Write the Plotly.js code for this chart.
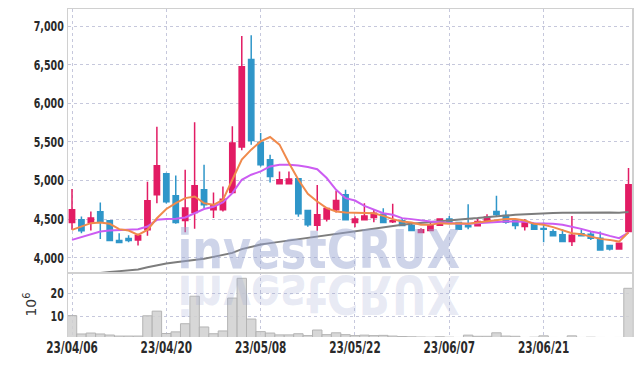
<!DOCTYPE html>
<html>
<head>
<meta charset="utf-8">
<script src="https://cdn.plot.ly/plotly-3.0.1.min.js"></script>
<style>
  html, body { margin: 0; padding: 0; background: #fff; }
  #chart { width: 642px; height: 366px; }
</style>
</head>
<body>
<div id="chart"></div>
<script>
// Tick labels (every 10 trading days)
const tickIndex = [0, 10, 20, 30, 40, 50];
const tickLabels = ['23/04/06', '23/04/20', '23/05/08', '23/05/22', '23/06/07', '23/06/21'];

// OHLC (yen)
const openP = [4455,4490,4455,4594,4477,4221,4247,4230,4360,4814,
               5087,4801,4481,4584,4879,4619,4619,4844,5434,6567,
               5494,5269,4957,4957,5022,4610,4421,4499,4619,4814,
               4455,4490,4519,4563,4464,4477,4412,4325,4351,4421,
               4499,4455,4416,4412,4468,4597,4545,4477,4403,4438,
               4377,4334,4295,4208,4308,4304,4252,4156,4113,4338];
const highP = [4890,4532,4597,4714,4480,4317,4290,4310,4983,5697,
               5100,5065,5139,5753,5204,4844,4922,5701,6870,6880,
               5615,5334,5117,5117,5030,4615,4940,4650,4866,4879,
               4535,4706,4628,4641,4697,4512,4455,4380,4455,4505,
               4541,4460,4693,4499,4563,4801,4610,4485,4499,4445,
               4455,4369,4369,4541,4369,4338,4338,4160,4190,5161];
const lowP  = [4360,4317,4350,4240,4215,4187,4200,4156,4282,4706,
               4700,4440,4330,4373,4640,4512,4597,4830,5390,5464,
               5180,4974,4950,4950,4530,4400,4347,4467,4584,4485,
               4395,4488,4460,4450,4450,4410,4345,4320,4345,4415,
               4460,4365,4369,4405,4455,4532,4438,4369,4351,4365,
               4200,4275,4205,4152,4278,4230,4100,4091,4110,4330];
const closeP = [4620,4347,4512,4464,4221,4195,4221,4286,4736,5191,
                4723,4455,4642,4931,4684,4671,4758,5486,6473,5519,
                5204,5052,5009,5018,4567,4425,4555,4636,4740,4490,
                4499,4541,4575,4455,4477,4416,4351,4360,4425,4499,
                4464,4369,4399,4468,4525,4558,4460,4416,4468,4369,
                4369,4282,4208,4291,4282,4252,4100,4113,4187,4944];

// Moving averages
const maShort = [4360,4403,4447,4455,4438,4369,4351,4295,4360,4510,
                 4630,4706,4771,4792,4706,4684,4749,5009,5269,5399,
                 5506,5563,5464,5226,5009,4827,4727,4641,4597,4584,
                 4584,4584,4575,4541,4499,4468,4455,4425,4425,4447,
                 4438,4447,4438,4455,4468,4490,4499,4499,4480,4438,
                 4425,4395,4360,4317,4304,4273,4243,4230,4208,4330];
const maMid   = [4230,4265,4295,4338,4351,4360,4360,4369,4403,4490,
                 4499,4503,4520,4575,4630,4660,4715,4836,5009,5074,
                 5117,5182,5204,5204,5195,5175,5145,5031,4879,4771,
                 4740,4671,4619,4575,4555,4512,4499,4481,4468,4460,
                 4447,4438,4438,4447,4455,4464,4468,4468,4464,4447,
                 4447,4438,4425,4403,4373,4338,4317,4282,4252,4325];
const maLong  = [3760,3775,3790,3803,3815,3825,3835,3847,3875,3900,
                 3925,3940,3952,3965,3985,4010,4035,4062,4110,4140,
                 4170,4188,4205,4225,4248,4265,4280,4295,4310,4325,
                 4345,4362,4378,4395,4412,4425,4438,4450,4460,4470,
                 4482,4495,4505,4512,4520,4532,4545,4555,4563,4570,
                 4575,4578,4580,4582,4583,4584,4585,4584,4582,4590];

// Volume (millions of shares)
const volume = [10.4,2.5,2.9,2.5,2.05,1.6,1.6,1.6,10.3,12.3,
                2.7,3.4,6.9,18.7,5.5,2.6,3.8,17.9,26.4,8.9,
                3.5,2.9,2.1,2.1,2.6,1.8,4.2,2.2,3.0,2.2,
                1.8,2.0,1.8,1.9,1.6,1.4,1.3,1.2,1.1,1.3,
                1.1,1.0,2.0,1.5,1.5,3.0,1.6,1.5,1.0,1.1,
                1.7,1.0,0.9,1.7,1.0,1.1,1.0,0.9,1.0,22.1];

const xIdx = closeP.map((_, i) => i);

const UP = '#E21C64';
const DOWN = '#2F96C9';
const GRID = '#c6c8dc';
const FRAME = '#d0d0d0';
const FAM = '"DejaVu Sans", sans-serif';
const yTickFont = {family: FAM, size: 14, color: '#2a2a2a', weight: 'bold'};
const xTickFont = {family: FAM, size: 15, color: '#2a2a2a', weight: 'bold'};

const traces = [
  {
    type: 'bar', x: xIdx, y: volume, xaxis: 'x', yaxis: 'y2',
    marker: {color: 'rgba(208,208,208,0.85)', line: {color: '#b4b4b4', width: 1}},
    hoverinfo: 'skip'
  },
  {
    type: 'candlestick', x: xIdx, open: openP, high: highP, low: lowP, close: closeP,
    xaxis: 'x2', yaxis: 'y',
    increasing: {line: {color: UP, width: 1.5}, fillcolor: UP},
    decreasing: {line: {color: DOWN, width: 1.5}, fillcolor: DOWN},
    whiskerwidth: 0
  },
  {type: 'scatter', mode: 'lines', x: xIdx, y: maLong, xaxis: 'x2', yaxis: 'y',
   line: {color: '#7d7d7d', width: 2}},
  {type: 'scatter', mode: 'lines', x: xIdx, y: maMid, xaxis: 'x2', yaxis: 'y',
   line: {color: '#CC5CF2', width: 2}},
  {type: 'scatter', mode: 'lines', x: xIdx, y: maShort, xaxis: 'x2', yaxis: 'y',
   line: {color: '#F08A4C', width: 2}}
];

const split = 65 / 328;
const xr = [-0.424, 59.37];

const layout = {
  width: 642, height: 366,
  margin: {l: 68, r: 10, t: 9, b: 29},
  paper_bgcolor: '#fff', plot_bgcolor: '#fff',
  showlegend: false,
  bargap: 0,
  boxgap: 0.2,
  xaxis: {
    domain: [0, 1], anchor: 'y2', range: xr,
    tickmode: 'array', tickvals: tickIndex, ticktext: tickLabels,
    ticks: '', tickfont: xTickFont,
    showgrid: true, gridcolor: GRID, griddash: 'dot', gridwidth: 1,
    zeroline: false,
    showline: false,
    rangeslider: {visible: false}
  },
  xaxis2: {
    domain: [0, 1], anchor: 'y', matches: 'x', range: xr,
    tickmode: 'array', tickvals: tickIndex, ticktext: tickLabels,
    showticklabels: false, ticks: '',
    showgrid: true, gridcolor: GRID, griddash: 'dot', gridwidth: 1,
    zeroline: false,
    showline: true, linecolor: FRAME, linewidth: 1.5, mirror: true,
    rangeslider: {visible: false}
  },
  yaxis: {
    domain: [split, 1], range: [3814, 7221],
    tickmode: 'array', tickvals: [4000, 4500, 5000, 5500, 6000, 6500, 7000],
    tickformat: ',d', ticks: '', tickfont: yTickFont,
    showgrid: true, gridcolor: GRID, griddash: 'dot', gridwidth: 1,
    zeroline: false,
    showline: true, linecolor: FRAME, linewidth: 1.5, mirror: true
  },
  yaxis2: {
    domain: [0, split], range: [1.2, 29.1],
    tickmode: 'array', tickvals: [10, 20],
    ticks: '', tickfont: yTickFont,
    title: {text: '10<sup>6</sup>', font: {family: FAM, size: 14, color: '#333'}, standoff: 4},
    showgrid: true, gridcolor: GRID, griddash: 'dot', gridwidth: 1,
    zeroline: false,
    showline: true, linecolor: FRAME, linewidth: 1.5, mirror: true
  },
  annotations: [
    {text: 'investCRUX', xref: 'paper', yref: 'paper', x: 0.444, y: 0.266,
     xanchor: 'center', yanchor: 'middle', showarrow: false,
     font: {family: FAM, size: 54, weight: 'bold', color: 'rgba(150,163,208,0.47)'}},
    {text: 'investCRUX', xref: 'paper', yref: 'paper', x: 0.444, y: 0.266,
     xanchor: 'center', yanchor: 'middle', showarrow: false,
     font: {family: FAM, size: 54, weight: 'bold', color: 'rgba(150,163,208,0.22)'}}
  ]
};

// horizontal squeeze of a text element, keeping one edge/centre fixed
function squeeze(el, s, anchor) {
  const b = el.getBBox();
  const ax = anchor === 'end' ? b.x + b.width : b.x + b.width / 2;
  const t = el.getAttribute('transform') || '';
  el.setAttribute('transform', t + ' translate(' + ax + ',0) scale(' + s + ',1) translate(' + (-ax) + ',0)');
}

Plotly.newPlot('chart', traces, layout, {staticPlot: true, displayModeBar: false}).then(gd => {
  gd.querySelectorAll('g.ytick text, g.y2tick text').forEach(el => squeeze(el, 0.68, 'end'));
  gd.querySelectorAll('g.xtick text').forEach(el => squeeze(el, 0.7, 'middle'));
  const anns = gd.querySelectorAll('g.annotation');
  anns.forEach(a => { const tx = a.querySelector('text'); if (tx) squeeze(tx, 0.8, 'middle'); });
  if (anns.length > 1) {
    const refl = anns[1];
    const t = refl.getAttribute('transform') || '';
    refl.setAttribute('transform', 'matrix(1 0 0 -1 0 544) ' + t);
  }
});
</script>
</body>
</html>
